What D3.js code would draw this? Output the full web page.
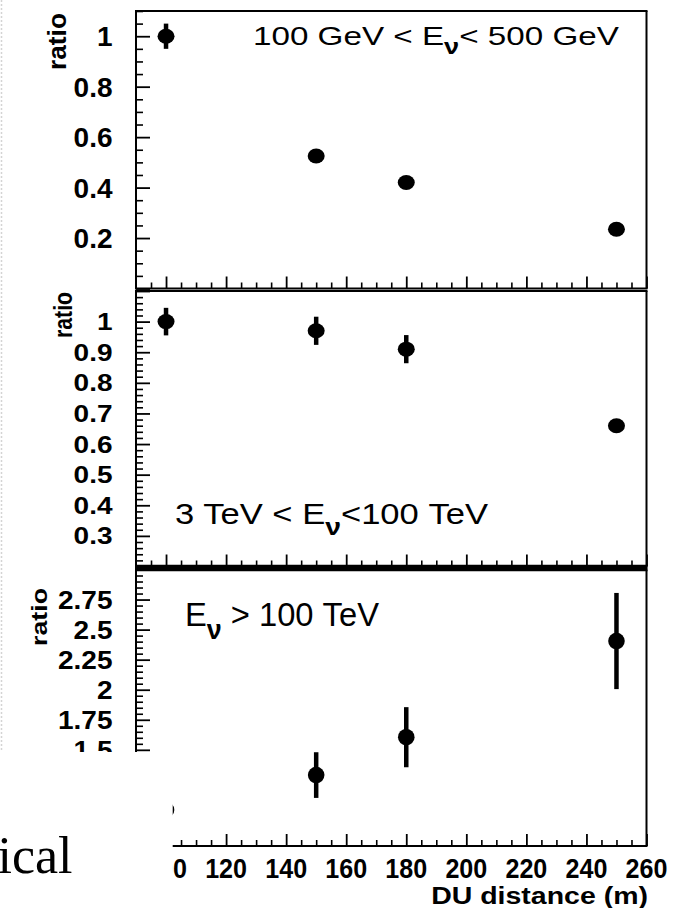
<!DOCTYPE html>
<html><head><meta charset="utf-8">
<script src="https://cdn.jsdelivr.net/npm/d3@7"></script>
<style>html,body{margin:0;padding:0;background:#fff;} svg{display:block;}</style>
</head><body>
<svg id="chart" width="682" height="908"></svg>
<script>
// ---------------- data ----------------
const distances = [100, 150, 180, 250];
const ratioLow  = [1.0, 0.525, 0.42, 0.235];
const errLow    = [0.05, 0.012, 0.012, 0.012];
const ratioMid  = [1.0, 0.97, 0.91, 0.66];
const errMid    = [0.045, 0.046, 0.046, 0.02];
const ratioHigh = [1.0, 1.29, 1.605, 2.405];
const errHigh   = [0.12, 0.19, 0.25, 0.40];

const xTickLabels = [100, 120, 140, 160, 180, 200, 220, 240, 260];
const yTicksLow  = [0.2, 0.4, 0.6, 0.8, 1];
const yTicksMid  = [0.3, 0.4, 0.5, 0.6, 0.7, 0.8, 0.9, 1];
const yTicksHigh = [1.5, 1.75, 2, 2.25, 2.5, 2.75];

const titleLow  = ["100 GeV < E", "\u03BD", "< 500 GeV"];
const titleMid  = ["3 TeV < E", "\u03BD", "<100 TeV"];
const titleHigh = ["E", "\u03BD", " > 100 TeV"];
const yLabel = "ratio";
const xLabel = "DU distance (m)";
const snippet = "ical";

// ---------------- layout ----------------
const svg = d3.select("#chart");
const W = 682, H = 908;
svg.append("rect").attr("width", W).attr("height", H).attr("fill", "#fff");

const left = 136, right = 646.5;
const x = d3.scaleLinear().domain([90, 260]).range([left, right]);
const SANS = "'Liberation Sans', Arial, Helvetica, sans-serif";

function fmt(v) { return d3.format("~g")(v); }
function range(a, b, s) { const out = []; for (let v = a; v <= b + 1e-9; v += s) out.push(+v.toFixed(4)); return out; }

const panels = [
  { top: 11, bottom: 288.5, domain: [0, 1.1], minor: 0.05, major: 0.2, ticks: yTicksLow,
    vals: ratioLow, errs: errLow, ry: 7.5, rx: 8.5,
    lab: { bx: 65.5, yEnd: 13, len: 57, fs: 26 }, tickSY: 1.0,
    title: { parts: titleLow, x: 253, base: 44.5, fs: 26, w: 366 },
    topStroke: 2, botStroke: 2 },
  { top: 291, bottom: 566.5, domain: [0.2, 1.1], minor: 0.02, major: 0.1, ticks: yTicksMid,
    vals: ratioMid, errs: errMid, ry: 7.5, rx: 8.5,
    lab: { bx: 71.7, yEnd: 292, len: 46, fs: 26 }, tickSY: 0.85,
    title: { parts: titleMid, x: 175, base: 524, fs: 30, w: 313 },
    topStroke: 2, botStroke: 3.5 },
  { top: 569.5, bottom: 846, domain: [0.7, 3.0], minor: 0.05, major: 0.25, ticks: yTicksHigh,
    vals: ratioHigh, errs: errHigh, ry: 8.3, rx: 8.3,
    lab: { bx: 46.7, yEnd: 588, len: 58, fs: 22 }, tickSY: 0.9,
    title: { parts: titleHigh, x: 185, base: 626, fs: 33.5, w: 194 },
    topStroke: 3.5, botStroke: 2 }
];

// dotted page border on the left
svg.append("line").attr("x1", 1.5).attr("x2", 1.5).attr("y1", 0).attr("y2", 752)
  .attr("stroke", "#d4d4d4").attr("stroke-width", 1.5).attr("stroke-dasharray", "2,2");

panels.forEach((p, i) => {
  const y = d3.scaleLinear().domain(p.domain).range([p.bottom, p.top]);
  const g = svg.append("g");

  // minor / major y ticks (inward)
  const all = range(Math.ceil(p.domain[0] / p.minor - 1e-6) * p.minor, p.domain[1], p.minor);
  const isMajor = v => Math.abs(v / p.major - Math.round(v / p.major)) < 1e-6;
  const yMinor = all.filter(v => !isMajor(v));
  const yMajor = all.filter(v => isMajor(v));
  g.append("g").attr("transform", `translate(${left},0)`)
    .call(d3.axisLeft(y).tickValues(yMinor).tickSize(-7).tickFormat(""))
    .call(a => a.select(".domain").remove())
    .selectAll("line").attr("stroke", "#000").attr("stroke-width", 1.6);
  g.append("g").attr("transform", `translate(${left},0)`)
    .call(d3.axisLeft(y).tickValues(yMajor).tickSize(-14).tickFormat(""))
    .call(a => a.select(".domain").remove())
    .selectAll("line").attr("stroke", "#000").attr("stroke-width", 1.8);

  // x ticks (inward, at bottom)
  const xMinor = range(95, 255, 5).filter(v => v % 20 !== 0);
  g.append("g").attr("transform", `translate(0,${p.bottom})`)
    .call(d3.axisBottom(x).tickValues(xMinor).tickSize(-6).tickFormat(""))
    .call(a => a.select(".domain").remove())
    .selectAll("line").attr("stroke", "#000").attr("stroke-width", 1.6);
  g.append("g").attr("transform", `translate(0,${p.bottom})`)
    .call(d3.axisBottom(x).tickValues(xTickLabels).tickSize(-12).tickFormat(""))
    .call(a => a.select(".domain").remove())
    .selectAll("line").attr("stroke", "#000").attr("stroke-width", 1.8);

  // frame
  g.append("line").attr("x1", left).attr("x2", left).attr("y1", p.top).attr("y2", p.bottom).attr("stroke", "#000").attr("stroke-width", 2);
  g.append("line").attr("x1", right).attr("x2", right).attr("y1", p.top).attr("y2", p.bottom).attr("stroke", "#000").attr("stroke-width", 2);
  g.append("line").attr("x1", left - 1).attr("x2", right + 1).attr("y1", p.top).attr("y2", p.top).attr("stroke", "#000").attr("stroke-width", p.topStroke);
  g.append("line").attr("x1", left - 1).attr("x2", right + 1).attr("y1", p.bottom).attr("y2", p.bottom).attr("stroke", "#000").attr("stroke-width", p.botStroke);

  // y tick labels
  g.selectAll("text.ytl").data(p.ticks).join("text").attr("class", "ytl")
    .attr("transform", d => `translate(112.5,${y(d)}) scale(1,${p.tickSY})`)
    .attr("text-anchor", "end").attr("dy", "0.36em")
    .attr("font-family", SANS).attr("font-weight", "bold").attr("font-size", 28)
    .attr("fill", "#000").text(fmt);

  // y axis label
  g.append("text")
    .attr("transform", `translate(${p.lab.bx},${p.lab.yEnd}) rotate(-90)`)
    .attr("text-anchor", "end")
    .attr("font-family", SANS).attr("font-weight", "bold").attr("font-size", p.lab.fs)
    .attr("textLength", p.lab.len).attr("lengthAdjust", "spacingAndGlyphs")
    .attr("fill", "#000").text(yLabel);

  // data: error bars + markers
  const pts = distances.map((d, k) => ({ d, v: p.vals[k], e: p.errs[k] }));
  g.selectAll("line.err").data(pts).join("line").attr("class", "err")
    .attr("x1", d => x(d.d)).attr("x2", d => x(d.d))
    .attr("y1", d => y(d.v - d.e)).attr("y2", d => y(d.v + d.e))
    .attr("stroke", "#000").attr("stroke-width", 4.5);
  g.selectAll("ellipse.pt").data(pts).join("ellipse").attr("class", "pt")
    .attr("cx", d => x(d.d)).attr("cy", d => y(d.v))
    .attr("rx", p.rx).attr("ry", p.ry).attr("fill", "#000");

  // panel title (with subscript nu), stretched to measured width
  const t = p.title;
  const tt = g.append("text")
    .attr("font-family", SANS).attr("font-size", t.fs).attr("fill", "#000")
    .attr("transform", `translate(${t.x},${t.base})`);
  const subShift = t.fs * 0.38;
  tt.append("tspan").text(t.parts[0]);
  tt.append("tspan").attr("font-size", t.fs * 0.82).attr("font-weight", "bold")
    .attr("dy", subShift).text(t.parts[1]);
  tt.append("tspan").attr("dy", -subShift).text(t.parts[2]);
  const nat = tt.node().getComputedTextLength();
  tt.attr("transform", `translate(${t.x},${t.base}) scale(${t.w / nat},1)`);
});

// x tick labels & x title (bottom panel only)
svg.selectAll("text.xtl").data(xTickLabels).join("text").attr("class", "xtl")
  .attr("transform", d => `translate(${x(d)},877.5) scale(0.93,1)`).attr("text-anchor", "middle")
  .attr("font-family", SANS).attr("font-weight", "bold").attr("font-size", 27)
  .attr("fill", "#000").text(d => d);
const xt = svg.append("text").attr("font-family", SANS).attr("font-weight", "bold")
  .attr("font-size", 24.5).attr("fill", "#000").attr("text-anchor", "end").text(xLabel);
const xtw = xt.node().getComputedTextLength();
xt.attr("transform", `translate(648,903.5) scale(${217 / xtw},1)`);

// overlapping page fragment (white patch with serif word)
svg.append("rect").attr("x", 0).attr("y", 752).attr("width", 172.7).attr("height", H - 752).attr("fill", "#fff");
svg.append("text").attr("x", 72.5).attr("y", 873.3).attr("text-anchor", "end")
  .attr("font-family", "'Liberation Serif', 'Times New Roman', serif").attr("font-size", 52)
  .attr("fill", "#000").text(snippet);
</script>
</body></html>
